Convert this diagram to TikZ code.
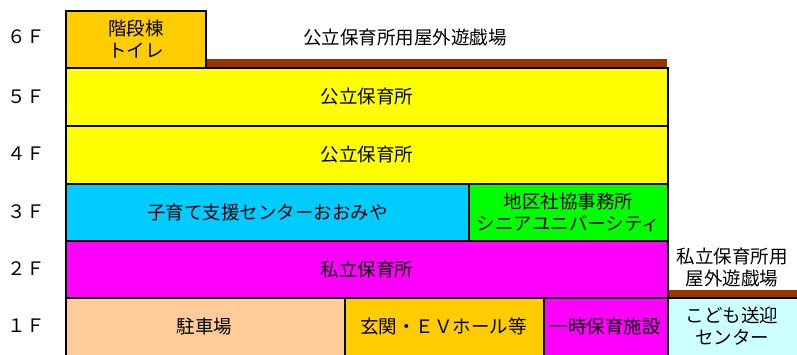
\documentclass[tikz,border=0pt]{standalone}
\usepackage{fontspec}
\setmainfont{Noto Sans CJK JP}
\definecolor{brick}{HTML}{993300}
\definecolor{gold}{HTML}{FFCC00}
\definecolor{peach}{HTML}{FFCC99}
\definecolor{sky}{HTML}{00CCFF}
\definecolor{mint}{HTML}{CCFFFF}
\definecolor{lemon}{HTML}{FFFF00}
\definecolor{lime}{HTML}{00FF00}
\definecolor{pink}{HTML}{FF00FF}
\tikzset{
every node/.style=
    {font=\fontsize{18.5}{22}\selectfont,
    align=center,
    inner sep=0pt
    },
room/.style=
    {rectangle,
    draw=black,
    line width=2pt,
    anchor=north west
    },
yard/.style=
    {fill=brick,
    draw=none
    },
flr/.style=
    {anchor=center
    }}
\begin{document}
\begin{tikzpicture}[x=1pt,y=-1pt]
\useasboundingbox (0,0) rectangle (797,354);
\clip (0,0) rectangle (797,354);
\fill[white] (0,0) rectangle (797,354);

\foreach \n/\y in {６/37,５/97,４/154,３/212,２/269,１/326}
  \node[flr] (l\y) at (26.5,\y) {\n Ｆ};

\fill[yard] (205,59) rectangle (667,67);
\fill[yard] (667,290) rectangle (800,297);

\node[room,fill=gold,minimum width=140pt,minimum height=57pt] (stair) at (65,10) {};
\node at (stair.center) {階段棟\\トイレ};
\node (yard6) at (405,37) {公立保育所用屋外遊戯場};

\node[room,fill=lemon,minimum width=602pt,minimum height=58pt] (f5) at (65,67) {公立保育所};
\node[room,fill=lemon,minimum width=602pt,minimum height=58pt] (f4) at (65,125) {公立保育所};
\node[room,fill=sky,minimum width=403pt,minimum height=57pt] (kosodate) at (65,183) {子育て支援センターおおみや};
\node[room,fill=lime,minimum width=199pt,minimum height=57pt] (shakyo) at (468,183) {地区社協事務所\\シニアユニバーシティ};
\node[room,fill=pink,minimum width=602pt,minimum height=57pt] (f2) at (65,240) {私立保育所};

\node[room,fill=peach,minimum width=279pt,minimum height=62pt] (parking) at (65,297) {};
\node[room,fill=gold,minimum width=199pt,minimum height=62pt] (entrance) at (344,297) {};
\node[room,fill=pink,minimum width=124pt,minimum height=62pt] (ichiji) at (543,297) {};
\node[room,fill=mint,minimum width=140pt,minimum height=62pt] (sogei) at (667,297) {};
\node at (204.5,326) {駐車場};
\node at (443.5,326) {玄関・ＥＶホール等};
\node at (605,326) {一時保育施設};
\node at (732,326) {こども送迎\\センター};

\node (yard2) at (732,267) {私立保育所用\\屋外遊戯場};

\end{tikzpicture}
\end{document}
